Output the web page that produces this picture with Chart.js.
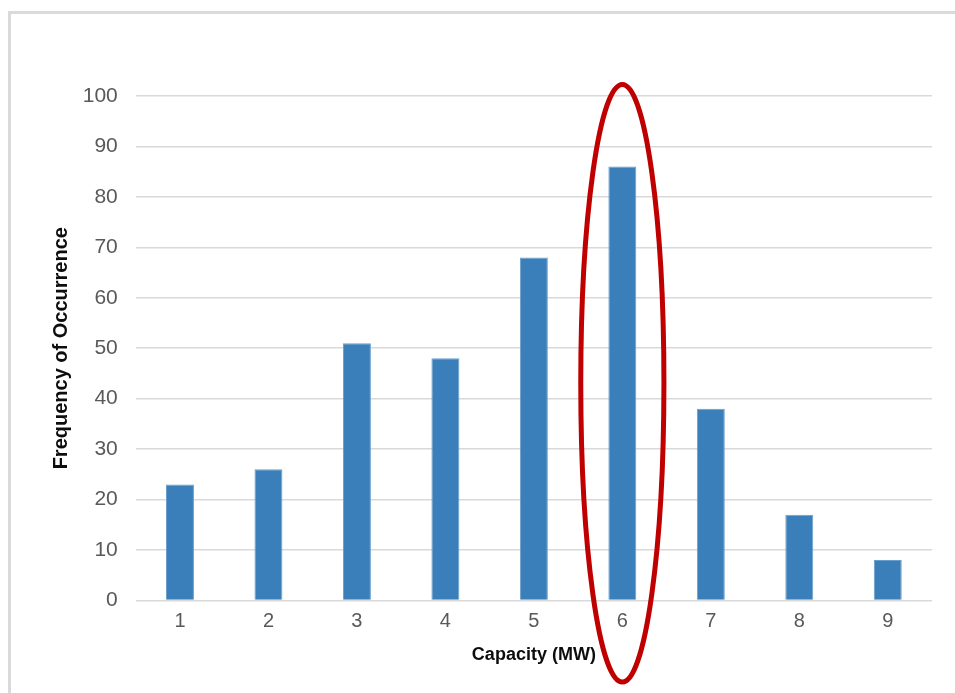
<!DOCTYPE html>
<html>
<head>
<meta charset="utf-8">
<script src="https://cdn.jsdelivr.net/npm/chart.js@4.4.1/dist/chart.umd.min.js"></script>
<style>
  html, body { margin: 0; padding: 0; background: #fff; overflow: hidden; }
  #frame { position: absolute; left: 8px; top: 11px; width: 2000px; height: 2000px;
           border-left: 3px solid #dadada; border-top: 3px solid #dadada; }
  #chart { position: absolute; left: 0; top: 0; }
</style>
</head>
<body>
<div id="frame"></div>
<canvas id="chart" width="955" height="693"></canvas>
<script>
// data
const capacities = ['1', '2', '3', '4', '5', '6', '7', '8', '9'];
const frequencies = [23, 26, 51, 48, 68, 86, 38, 17, 8];
const yTicks = [0, 10, 20, 30, 40, 50, 60, 70, 80, 90, 100];

// the red ring around one category (value range it spans)
const highlightCategory = '6';
const highlightRange = [-16.2, 102.3];

const ringPlugin = {
    id: 'ring',
    afterDraw(chart) {
        const x = chart.scales.x, y = chart.scales.y;
        const idx = capacities.indexOf(highlightCategory);
        const cx = x.getPixelForValue(idx);
        const step = x.getPixelForValue(1) - x.getPixelForValue(0);
        const top = y.getPixelForValue(highlightRange[1]);
        const bottom = y.getPixelForValue(highlightRange[0]);
        const ctx = chart.ctx;
        ctx.save();
        ctx.beginPath();
        ctx.ellipse(cx, (top + bottom) / 2, step * 0.47, (bottom - top) / 2, 0, 0, Math.PI * 2);
        ctx.strokeStyle = '#c00000';
        ctx.lineWidth = 5;
        ctx.stroke();
        ctx.restore();
    }
};

const ctx = document.getElementById('chart').getContext('2d');
const chart = new Chart(ctx, {
    type: 'bar',
    data: {
        labels: capacities,
        datasets: [{
            data: frequencies,
            backgroundColor: '#3a7fb9',
            borderColor: '#6a9fcc',
            borderWidth: 1,
            categoryPercentage: 1,
            barPercentage: 0.316
        }]
    },
    options: {
        responsive: false,
        animation: false,
        devicePixelRatio: 1,
        layout: { padding: { left: 40, top: 96, right: 23, bottom: 23 } },
        plugins: { legend: { display: false }, tooltip: { enabled: false } },
        scales: {
            x: {
                grid: { display: false, drawTicks: false },
                border: { display: false },
                ticks: { color: '#595959', padding: 9, font: { family: 'Liberation Sans', size: 20 } },
                title: {
                    display: true, text: 'Capacity (MW)', color: '#0d0d0d',
                    padding: { top: 2, bottom: 4 },
                    font: { family: 'Liberation Sans', size: 18, weight: 'bold' }
                }
            },
            y: {
                min: 0, max: 100,
                afterFit(scale) { scale.width = 95.75; },
                afterBuildTicks(scale) { scale.ticks = yTicks.map(v => ({ value: v })); },
                grid: { color: '#d9d9d9', lineWidth: 1.5, drawTicks: false },
                border: { display: false },
                ticks: { color: '#595959', padding: 18, font: { family: 'Liberation Sans', size: 21 } },
                title: {
                    display: true, text: 'Frequency of Occurrence', color: '#0d0d0d',
                    padding: { top: 9, bottom: 0 },
                    font: { family: 'Liberation Sans', size: 20, weight: 'bold' }
                }
            }
        }
    },
    plugins: [ringPlugin]
});
</script>
</body>
</html>
